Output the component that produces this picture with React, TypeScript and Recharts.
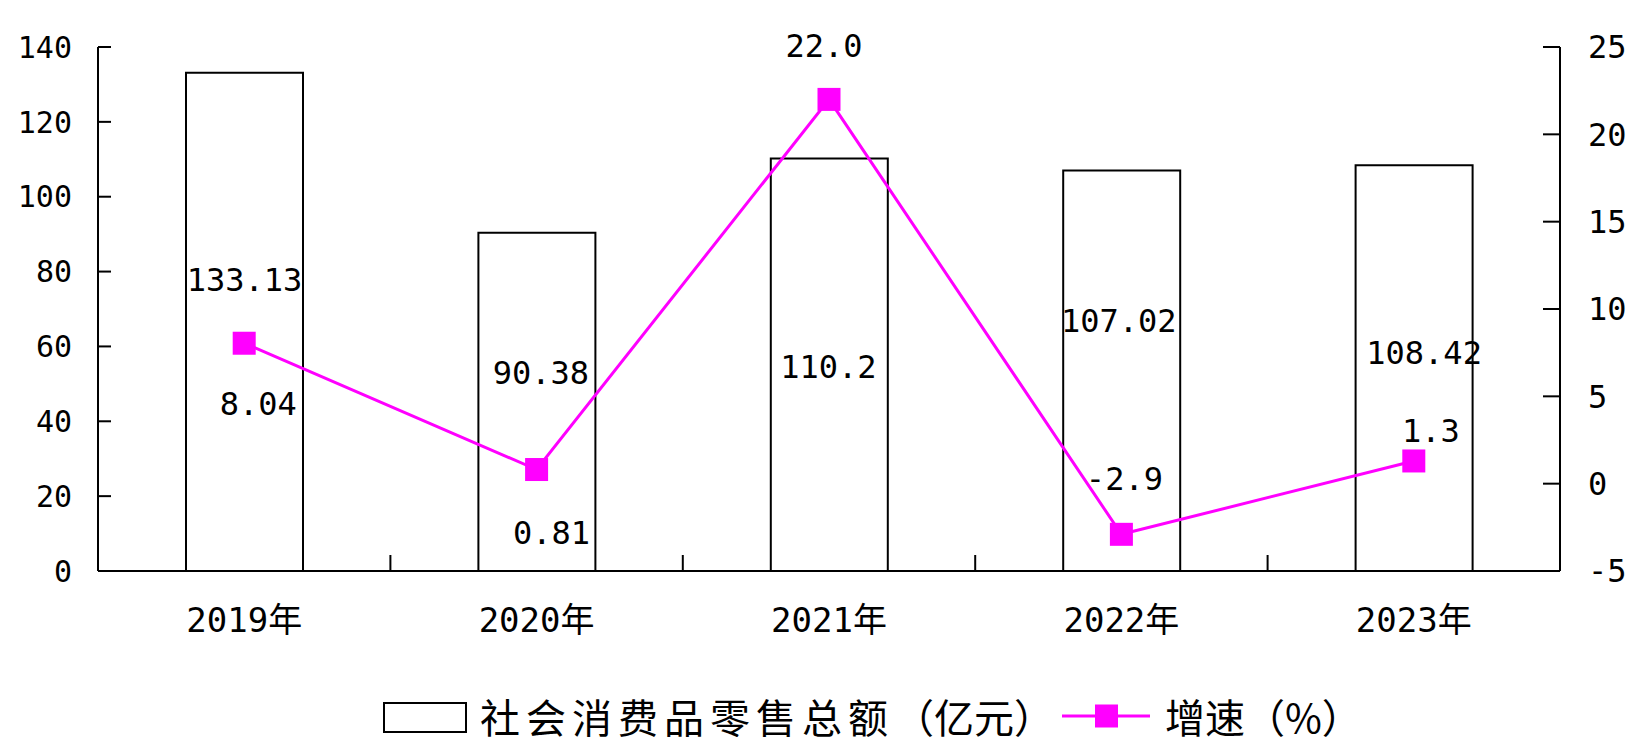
import React from 'react';
import { ComposedChart, Bar, Line, XAxis, YAxis, Legend, LabelList } from 'recharts';

// ---- data ----
const categories = ['2019年', '2020年', '2021年', '2022年', '2023年'];
const retailSales = [133.13, 90.38, 110.2, 107.02, 108.42];
const growthRate = [8.04, 0.81, 22.0, -2.9, 1.3];
const leftTicks = [0, 20, 40, 60, 80, 100, 120, 140];
const rightTicks = [-5, 0, 5, 10, 15, 20, 25];
const salesName = '社会消费品零售总额（亿元）';
const growthName = '增速（%）';

const data = categories.map((c, i) => ({ year: c, sales: retailSales[i], growth: growthRate[i] }));

// ---- layout / style ----
const MONO = '"DejaVu Sans Mono", "Noto Sans CJK SC", monospace';
const CJK = '"Noto Sans CJK SC", sans-serif';
const MAGENTA = '#FF00FF';
const W = 1633;
const H = 729;

// label placement (px) relative to bar top / line point
const barLabelOffsets = [
  { dx: 0, dy: 207 },
  { dx: 4, dy: 140 },
  { dx: -1, dy: 208 },
  { dx: -3, dy: 151 },
  { dx: 10, dy: 188 },
];
const lineLabelOffsets = [
  { dx: 14, dy: 61 },
  { dx: 15, dy: 63 },
  { dx: -5, dy: -53 },
  { dx: 3, dy: -55 },
  { dx: 17, dy: -30 },
];

const fmt = (v: number) => (Number.isInteger(v) ? v.toFixed(1) : String(v));

const SquareDot = (props: any) => {
  const { cx, cy, index } = props;
  if (cx == null || cy == null) return <g key={`d${index}`} />;
  return <rect key={`d${index}`} x={cx - 11.5} y={cy - 11.5} width={23} height={23} fill={MAGENTA} />;
};

const XTick = (props: any) => {
  const { x, y, payload, index, visibleTicksCount } = props;
  const half = payload && payload.offset ? payload.offset : 0;
  const last = (visibleTicksCount ?? categories.length) - 1;
  return (
    <g>
      <text
        x={x}
        y={y + 49}
        textAnchor="middle"
        dominantBaseline="central"
        fontFamily={MONO}
        fontSize={34}
        fill="#000"
      >
        {payload.value}
      </text>
      {index < last && (
        <line x1={x + half} x2={x + half} y1={y} y2={y - 16} stroke="#000" strokeWidth={2} />
      )}
    </g>
  );
};

const BarLabel = (p: any) => {
  const { x, y, width, index, value } = p;
  const o = barLabelOffsets[index] || { dx: 0, dy: 0 };
  return (
    <text
      x={x + width / 2 + o.dx}
      y={y + o.dy}
      textAnchor="middle"
      dominantBaseline="central"
      fontFamily={MONO}
      fontSize={32}
      fill="#000"
    >
      {value}
    </text>
  );
};

const LineLabel = (p: any) => {
  const { x, y, index, value } = p;
  const o = lineLabelOffsets[index] || { dx: 0, dy: 0 };
  return (
    <text
      x={x + o.dx}
      y={y + o.dy}
      textAnchor="middle"
      dominantBaseline="central"
      fontFamily={MONO}
      fontSize={32}
      fill="#000"
    >
      {fmt(value)}
    </text>
  );
};

const LegendBox = () => {
  const splitAt = salesName.indexOf('（');
  return (
    <div style={{ position: 'relative', width: W, height: 40 }}>
      <div
        style={{
          position: 'absolute',
          left: 365,
          top: 6,
          width: 84,
          height: 31,
          border: '2px solid #000',
          boxSizing: 'border-box',
          background: '#fff',
        }}
      />
      <span
        style={{
          position: 'absolute',
          left: 462,
          top: 0,
          fontFamily: CJK,
          fontSize: 40,
          lineHeight: '40px',
          color: '#000',
          whiteSpace: 'nowrap',
        }}
      >
        <span style={{ letterSpacing: 6 }}>{salesName.slice(0, splitAt)}</span>
        <span>{salesName.slice(splitAt)}</span>
      </span>
      <svg style={{ position: 'absolute', left: 1044, top: 0 }} width={90} height={40}>
        <line x1={0} y1={20} x2={88} y2={20} stroke={MAGENTA} strokeWidth={3} />
        <rect x={44.5} y={8.5} width={23} height={23} fill={MAGENTA} transform="translate(-11.5,0)" />
      </svg>
      <span
        style={{
          position: 'absolute',
          left: 1147,
          top: 0,
          fontFamily: CJK,
          fontSize: 40,
          lineHeight: '40px',
          color: '#000',
          whiteSpace: 'nowrap',
        }}
      >
        {growthName}
      </span>
    </div>
  );
};

export default function App() {
  return (
    <div style={{ width: W, height: H, background: '#fff' }}>
      <ComposedChart
        width={W}
        height={H}
        data={data}
        margin={{ top: 39, right: 1, bottom: 1, left: 10 }}
      >
        <XAxis
          dataKey="year"
          height={125}
          axisLine={{ stroke: '#000', strokeWidth: 2 }}
          tickLine={false}
          tickSize={0}
          tickMargin={0}
          tick={<XTick />}
          interval={0}
        />
        <YAxis
          yAxisId="left"
          orientation="left"
          width={80}
          domain={[0, 140]}
          ticks={leftTicks}
          interval={0}
          axisLine={{ stroke: '#000', strokeWidth: 2 }}
          tickLine={{ stroke: '#000', strokeWidth: 2 }}
          tickSize={-13}
          tickMargin={39}
          tick={{ fontFamily: MONO, fontSize: 30, fill: '#000' }}
        />
        <YAxis
          yAxisId="right"
          orientation="right"
          width={80}
          domain={[-5, 25]}
          ticks={rightTicks}
          interval={0}
          axisLine={{ stroke: '#000', strokeWidth: 2 }}
          tickLine={{ stroke: '#000', strokeWidth: 2 }}
          tickSize={-17}
          tickMargin={45}
          tick={{ fontFamily: MONO, fontSize: 32, fill: '#000', textAnchor: 'start' }}
        />
        <Legend verticalAlign="bottom" height={40} content={() => <LegendBox />} />
        <Bar
          yAxisId="left"
          dataKey="sales"
          name={salesName}
          barSize={117}
          fill="#fff"
          stroke="#000"
          strokeWidth={2}
          isAnimationActive={false}
        >
          <LabelList dataKey="sales" content={<BarLabel />} />
        </Bar>
        <Line
          yAxisId="right"
          dataKey="growth"
          name={growthName}
          type="linear"
          stroke={MAGENTA}
          strokeWidth={3}
          dot={SquareDot}
          activeDot={false}
          isAnimationActive={false}
        >
          <LabelList dataKey="growth" content={<LineLabel />} />
        </Line>
      </ComposedChart>
    </div>
  );
}
